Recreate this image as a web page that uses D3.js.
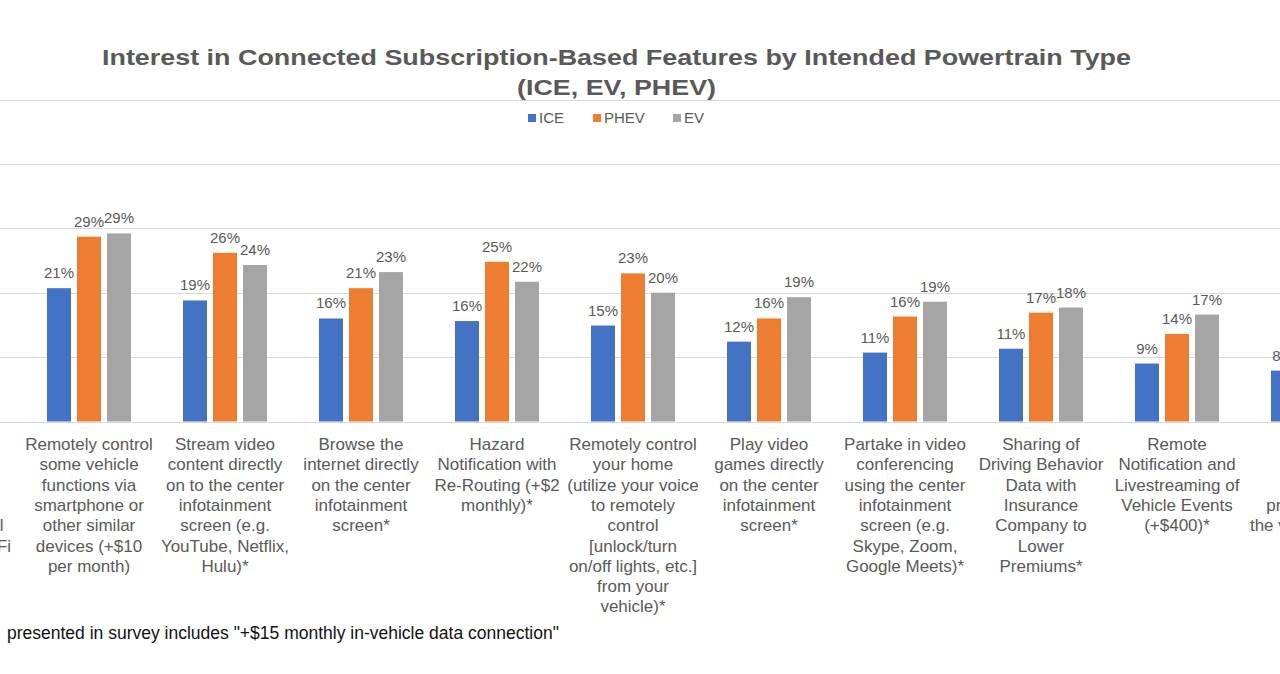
<!DOCTYPE html>
<html>
<head>
<meta charset="utf-8">
<script src="https://cdn.jsdelivr.net/npm/d3@7/dist/d3.min.js"></script>
<style>
  html, body { margin: 0; padding: 0; background: #ffffff; overflow: hidden; }
  svg { display: block; font-family: "Liberation Sans", Arial, sans-serif; }
</style>
</head>
<body>
<svg id="chart" width="1280" height="674"></svg>
<script>
// ---- data ----
const categories = [
  "In-vehicle Wi-Fi",
  "Remote vehicle control",
  "Stream video",
  "Browse the internet",
  "Hazard notification",
  "Remote home control",
  "Play video games",
  "Video conferencing",
  "Driving behavior sharing",
  "Remote notification",
  "Vehicle protection"
];
const categoryLines = [
  ["Connect", "devices to", "the internet", "using an", "own personal", "in-vehicle Wi-Fi"],
  ["Remotely control", "some vehicle", "functions via", "smartphone or", "other similar", "devices (+$10", "per month)"],
  ["Stream video", "content directly", "on to the center", "infotainment", "screen (e.g.", "YouTube, Netflix,", "Hulu)*"],
  ["Browse the", "internet directly", "on the center", "infotainment", "screen*"],
  ["Hazard", "Notification with", "Re-Routing (+$2", "monthly)*"],
  ["Remotely control", "your home", "(utilize your voice", "to remotely", "control", "[unlock/turn", "on/off lights, etc.]", "from your", "vehicle)*"],
  ["Play video", "games directly", "on the center", "infotainment", "screen*"],
  ["Partake in video", "conferencing", "using the center", "infotainment", "screen (e.g.", "Skype, Zoom,", "Google Meets)*"],
  ["Sharing of", "Driving Behavior", "Data with", "Insurance", "Company to", "Lower", "Premiums*"],
  ["Remote", "Notification and", "Livestreaming of", "Vehicle Events", "(+$400)*"],
  ["Stolen", "vehicle", "tracking", "protection of", "the vehicle (+$5)"]
];
const seriesNames = ["ICE", "PHEV", "EV"];
const seriesColors = ["#4472C4", "#ED7D31", "#A5A5A5"];
// values in percent (null = outside the visible picture)
const iceValues  = [null, 20.7, 18.8, 16.0, 15.6, 14.9, 12.4, 10.7, 11.3, 9.0, 7.9];
const phevValues = [null, 28.7, 26.2, 20.7, 24.8, 23.0, 16.0, 16.3, 16.9, 13.6, null];
const evValues   = [null, 29.2, 24.3, 23.2, 21.7, 20.0, 19.3, 18.6, 17.7, 16.6, null];
const yTicks = [0, 10, 20, 30, 40, 50];
const titleLines = ["Interest in Connected Subscription-Based Features by Intended Powertrain Type", "(ICE, EV, PHEV)"];
const footnotePrefix = "*Price";
const footnoteBody = "presented in survey includes \"+$15 monthly in-vehicle data connection\"";

const seriesValues = [iceValues, phevValues, evValues];

// ---- layout ----
const svg = d3.select("#chart");
const W = 1280;
const gray = "#595959";

const x0 = d3.scaleBand().domain(d3.range(categories.length)).range([-115, 1381]).paddingInner(0).paddingOuter(0);
const x1 = d3.scaleBand().domain(seriesNames).range([-45, 45]).paddingInner(0.2).paddingOuter(0.1);
const y = d3.scaleLinear().domain([0, 50]).range([421.5, 99.5]);

// gridlines
svg.append("g").selectAll("line").data(yTicks).join("line")
  .attr("x1", 0).attr("x2", W)
  .attr("y1", d => Math.round(y(d)) + 0.5).attr("y2", d => Math.round(y(d)) + 0.5)
  .attr("stroke", "#d9d9d9").attr("stroke-width", 1.2);

// title (glyphs widened to match the reference's wide title face)
const titleWidths = [1029, 199];
svg.append("g").selectAll("text").data(titleLines).join("text")
  .attr("x", 616.5).attr("y", (d, i) => 65 + i * 30)
  .attr("text-anchor", "middle")
  .attr("font-size", 22.5).attr("font-weight", "bold").attr("fill", gray)
  .attr("textLength", (d, i) => titleWidths[i]).attr("lengthAdjust", "spacingAndGlyphs")
  .text(d => d);

// legend
const legendX = [528, 593, 673];
const lg = svg.append("g").selectAll("g").data(seriesNames).join("g")
  .attr("transform", (d, i) => `translate(${legendX[i]},0)`);
lg.append("rect").attr("x", 0).attr("y", 114).attr("width", 8).attr("height", 8)
  .attr("fill", (d, i) => seriesColors[i]);
lg.append("text").attr("x", 11).attr("y", 123).attr("font-size", 15).attr("fill", gray).text(d => d);

// bars
const groups = svg.append("g").selectAll("g").data(categories).join("g")
  .attr("transform", (d, i) => `translate(${x0(i) + x0.bandwidth() / 2},0)`);

const barData = i => seriesNames.map((s, k) => ({ s, k, v: seriesValues[k][i] })).filter(e => e.v !== null);

groups.each(function (d, i) {
  const g = d3.select(this);
  const data = barData(i);
  g.selectAll("rect").data(data).join("rect")
    .attr("x", e => x1(e.s))
    .attr("width", x1.bandwidth())
    .attr("y", e => y(e.v))
    .attr("height", e => y(0) - y(e.v))
    .attr("fill", e => seriesColors[e.k]);
  g.selectAll("text.val").data(data).join("text")
    .attr("class", "val")
    .attr("x", e => x1(e.s) + x1.bandwidth() / 2)
    .attr("y", e => y(e.v) - 10)
    .attr("text-anchor", "middle")
    .attr("font-size", 15).attr("fill", gray)
    .text(e => Math.round(e.v) + "%");
  const t = g.append("text").attr("text-anchor", "middle").attr("font-size", 17).attr("fill", gray);
  t.selectAll("tspan").data(categoryLines[i]).join("tspan")
    .attr("x", 0).attr("y", (l, j) => 450 + j * 20.3)
    .text(l => l);
});

// footnote (its start lies left of the cropped picture)
const fn = svg.append("g").attr("font-size", 17.5).attr("fill", "#111111");
fn.append("text").attr("x", -2).attr("y", 639).attr("text-anchor", "end").text(footnotePrefix);
fn.append("text").attr("x", 7).attr("y", 639).text(footnoteBody);
</script>
</body>
</html>
